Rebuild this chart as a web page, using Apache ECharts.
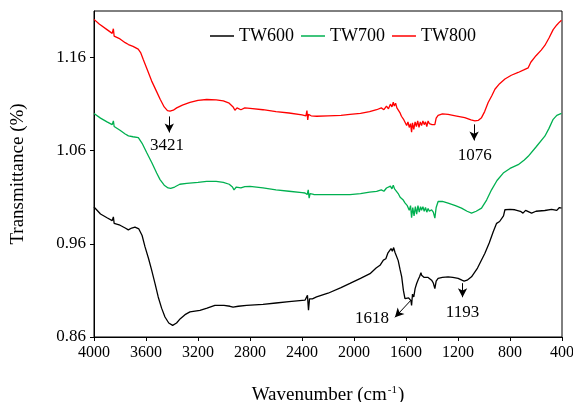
<!DOCTYPE html>
<html>
<head>
<meta charset="UTF-8">
<title>FTIR TW600 TW700 TW800</title>
<script type="text/javascript" src="https://cdn.jsdelivr.net/npm/echarts@6/dist/echarts.min.js"></script>
<style type="text/css">
	html, body { margin: 0; padding: 0; background: #fff; }
	#main { width: 573px; height: 402px; }
</style>
</head>
<body>
<div id="main"></div>
<script type="text/javascript">
	// 图例名称
	var seriesNames = ['TW600', 'TW700', 'TW800'];
	var seriesColors = ['#000000', '#00b050', '#ff0000'];

	// 坐标刻度
	var xTicks = [4000, 3600, 3200, 2800, 2400, 2000, 1600, 1200, 800, 400];
	var yTicks = [0.86, 0.96, 1.06, 1.16];

	// [波数, 透过率]
	var tw600 = [[4000,0.9995],[3950,0.992],[3900,0.988],[3860,0.985],[3851,0.989],[3845,0.982],[3800,0.980],[3760,0.977],[3736,0.975],[3710,0.977],[3685,0.978],[3672,0.979],[3655,0.976],[3646,0.977],[3630,0.969],[3608,0.957],[3580,0.944],[3557,0.932],[3530,0.917],[3506,0.903],[3480,0.891],[3454,0.8815],[3425,0.875],[3395,0.8725],[3365,0.875],[3336,0.8797],[3300,0.884],[3262,0.8869],[3185,0.8887],[3130,0.891],[3070,0.894],[3000,0.894],[2954,0.893],[2930,0.892],[2916,0.8916],[2890,0.893],[2826,0.894],[2700,0.895],[2600,0.8965],[2500,0.898],[2377,0.8995],[2365,0.899],[2358,0.9047],[2350,0.8887],[2342,0.901],[2320,0.901],[2288,0.903],[2200,0.907],[2100,0.913],[2031,0.9175],[1950,0.923],[1877,0.928],[1830,0.934],[1800,0.937],[1785,0.936],[1774,0.9426],[1755,0.944],[1740,0.950],[1725,0.948],[1715,0.955],[1705,0.952],[1695,0.956],[1685,0.951],[1672,0.950],[1660,0.942],[1645,0.932],[1633,0.9246],[1620,0.910],[1608,0.9013],[1595,0.9013],[1580,0.902],[1570,0.903],[1562,0.899],[1557,0.894],[1550,0.906],[1540,0.903],[1530,0.912],[1518,0.9175],[1505,0.922],[1495,0.925],[1485,0.929],[1480,0.9264],[1470,0.928],[1460,0.924],[1450,0.926],[1430,0.924],[1415,0.922],[1403,0.921],[1390,0.918],[1378,0.912],[1368,0.920],[1353,0.923],[1320,0.924],[1276,0.9246],[1240,0.924],[1199,0.923],[1170,0.921],[1153,0.920],[1130,0.921],[1096,0.9246],[1050,0.934],[993,0.950],[960,0.961],[929,0.973],[903,0.982],[880,0.984],[865,0.984],[850,0.990],[839,0.9966],[800,0.997],[762,0.9966],[720,0.995],[700,0.993],[680,0.996],[634,0.993],[600,0.995],[532,0.9958],[480,0.997],[440,0.996],[420,0.999],[404,0.9984]];

	var tw700 = [[4000,1.100],[3950,1.095],[3900,1.091],[3860,1.088],[3851,1.092],[3845,1.086],[3800,1.082],[3760,1.078],[3745,1.080],[3735,1.076],[3700,1.075],[3659,1.074],[3630,1.068],[3595,1.058],[3555,1.047],[3518,1.036],[3492,1.029],[3460,1.023],[3430,1.020],[3410,1.0195],[3380,1.021],[3340,1.024],[3287,1.025],[3200,1.026],[3133,1.027],[3060,1.027],[3005,1.026],[2960,1.024],[2935,1.021],[2923,1.018],[2905,1.021],[2890,1.022],[2870,1.020],[2857,1.019],[2840,1.0215],[2800,1.0217],[2700,1.020],[2600,1.018],[2500,1.0165],[2400,1.015],[2377,1.0146],[2360,1.013],[2352,1.018],[2345,1.009],[2338,1.014],[2310,1.013],[2288,1.0128],[2200,1.0128],[2100,1.0128],[2031,1.0128],[1950,1.014],[1880,1.0155],[1826,1.0163],[1790,1.018],[1770,1.0165],[1750,1.020],[1735,1.018],[1720,1.022],[1708,1.019],[1698,1.023],[1688,1.019],[1675,1.021],[1660,1.014],[1645,1.010],[1621,1.007],[1608,1.004],[1590,1.001],[1575,0.996],[1565,1.001],[1557,0.988],[1548,0.999],[1538,0.990],[1528,1.000],[1518,0.992],[1508,1.001],[1498,0.994],[1488,1.000],[1480,0.996],[1470,1.000],[1460,0.995],[1450,0.999],[1440,0.994],[1430,0.998],[1420,0.995],[1403,0.9966],[1390,0.994],[1378,0.9876],[1368,0.999],[1353,1.0055],[1320,1.0055],[1276,1.0038],[1220,1.001],[1173,0.9984],[1130,0.995],[1096,0.993],[1060,0.995],[1019,0.9984],[980,1.007],[942,1.018],[900,1.028],[852,1.036],[800,1.041],[737,1.045],[690,1.050],[660,1.054],[600,1.064],[532,1.0756],[500,1.084],[468,1.0937],[440,1.098],[404,1.100]];

	var tw800 = [[4000,1.201],[3960,1.196],[3900,1.190],[3860,1.186],[3851,1.191],[3845,1.183],[3800,1.180],[3760,1.176],[3745,1.178],[3735,1.174],[3700,1.172],[3660,1.169],[3640,1.165],[3621,1.158],[3590,1.147],[3557,1.135],[3520,1.124],[3490,1.115],[3460,1.107],[3435,1.103],[3415,1.1025],[3390,1.1035],[3364,1.106],[3320,1.109],[3262,1.112],[3200,1.114],[3133,1.115],[3060,1.1145],[3005,1.1134],[2960,1.111],[2930,1.107],[2916,1.1035],[2900,1.106],[2890,1.1065],[2870,1.104],[2857,1.1035],[2840,1.106],[2800,1.1055],[2700,1.104],[2600,1.102],[2500,1.1005],[2400,1.0985],[2370,1.0975],[2362,1.103],[2356,1.093],[2350,1.099],[2330,1.0975],[2287,1.097],[2200,1.0975],[2100,1.098],[2031,1.099],[1950,1.100],[1880,1.102],[1826,1.104],[1790,1.106],[1770,1.104],[1750,1.108],[1735,1.105],[1720,1.110],[1708,1.107],[1698,1.112],[1690,1.108],[1680,1.111],[1670,1.106],[1660,1.104],[1647,1.101],[1635,1.097],[1620,1.094],[1608,1.093],[1595,1.087],[1585,1.091],[1575,1.085],[1565,1.089],[1557,1.080],[1550,1.090],[1540,1.083],[1530,1.091],[1520,1.086],[1510,1.092],[1500,1.085],[1490,1.091],[1480,1.087],[1470,1.092],[1460,1.088],[1450,1.091],[1440,1.086],[1430,1.092],[1420,1.089],[1410,1.091],[1400,1.088],[1390,1.090],[1378,1.088],[1368,1.095],[1353,1.098],[1320,1.0995],[1276,1.099],[1220,1.0975],[1148,1.0955],[1100,1.093],[1070,1.092],[1045,1.0925],[1019,1.0955],[995,1.102],[968,1.1117],[940,1.119],[916,1.126],[880,1.132],[839,1.137],[790,1.141],[737,1.144],[690,1.147],[660,1.149],[648,1.150],[640,1.155],[634,1.157],[600,1.162],[560,1.168],[532,1.173],[500,1.181],[468,1.190],[440,1.195],[420,1.198],[404,1.200]];

	// 峰位标注: 文字, 文字位置, 箭头起点, 箭头终点
	var peakLabels = ['3421', '1076', '1193', '1618'];
	var peakTextPos = [[3439,1.0656],[1072,1.0548],[1165,0.8865],[1862,0.8801]];
	var arrowFrom = [[3421,1.0968],[1076,1.0883],[1165,0.9178],[1562,0.8995]];
	var arrowTo = [[3421,1.0796],[1076,1.0710],[1165,0.9027],[1685,0.8811]];

	var font = 'Liberation Serif';
	var myChart = echarts.init(document.getElementById('main'));

	var arrowLines = [];
	var textPoints = [];
	for (var i = 0; i < peakLabels.length; i++) {
		arrowLines.push([{coord: arrowFrom[i]}, {coord: arrowTo[i]}]);
		textPoints.push({coord: peakTextPos[i], value: peakLabels[i]});
	}

	var data = [tw600, tw700, tw800];
	var series = [];
	for (var s = 0; s < data.length; s++) {
		var item = {
			name: seriesNames[s],
			type: 'line',
			data: data[s],
			symbol: 'none',
			animation: false,
			lineStyle: {color: seriesColors[s], width: 1.3},
			itemStyle: {color: seriesColors[s]}
		};
		if (s == 0) {
			item.markLine = {
				silent: true,
				symbol: ['none', 'arrow'],
				symbolSize: [7, 9],
				lineStyle: {color: '#000', width: 1, type: 'solid'},
				label: {show: false},
				data: arrowLines
			};
			item.markPoint = {
				silent: true,
				symbol: 'circle',
				symbolSize: 0,
				label: {
					show: true,
					position: 'inside',
					color: '#000',
					fontSize: 17,
					fontFamily: font,
					formatter: function (p) { return p.value; }
				},
				data: textPoints
			};
		}
		series.push(item);
	}

	var option = {
		animation: false,
		grid: {
			left: 94, right: 11, top: 11, bottom: 65,
			outerBoundsMode: 'none',
			containLabel: false,
			show: true, borderColor: '#000', borderWidth: 1
		},
		legend: {
			data: seriesNames,
			left: 205,
			top: 22,
			icon: 'rect',
			itemWidth: 24,
			itemHeight: 1.5,
			itemGap: 7,
			textStyle: {fontSize: 18, fontFamily: font, color: '#000'}
		},
		xAxis: {
			type: 'value',
			inverse: true,
			min: 400,
			max: 4000,
			interval: 400,
			name: 'Wavenumber (cm{sup|-1})',
			nameLocation: 'middle',
			nameGap: 48,
			nameTextStyle: {
				fontSize: 19, fontFamily: font, color: '#000',
				rich: {sup: {fontSize: 11, fontFamily: font, color: '#000', verticalAlign: 'top', padding: [0, 1, 10, 1]}}
			},
			splitLine: {show: false},
			axisLine: {lineStyle: {color: '#000'}},
			axisTick: {inside: false, length: 4, lineStyle: {color: '#000'}},
			axisLabel: {
				margin: 8, fontSize: 16, fontFamily: font, color: '#000',
				customValues: xTicks,
				formatter: function (v) { return String(v); }
			}
		},
		yAxis: {
			type: 'value',
			min: 0.86,
			max: 1.21,
			name: 'Transmittance (%)',
			nameLocation: 'middle',
			nameRotate: 90,
			nameGap: 66,
			nameTextStyle: {fontSize: 19, fontFamily: font, color: '#000'},
			splitLine: {show: false},
			axisLine: {show: true, lineStyle: {color: '#000'}},
			axisTick: {show: true, length: 4, lineStyle: {color: '#000'}, customValues: yTicks},
			axisLabel: {
				margin: 8, fontSize: 17, fontFamily: font, color: '#000',
				customValues: yTicks,
				formatter: function (v) { return v.toFixed(2); }
			}
		},
		series: series
	};

	myChart.setOption(option);
</script>
</body>
</html>
